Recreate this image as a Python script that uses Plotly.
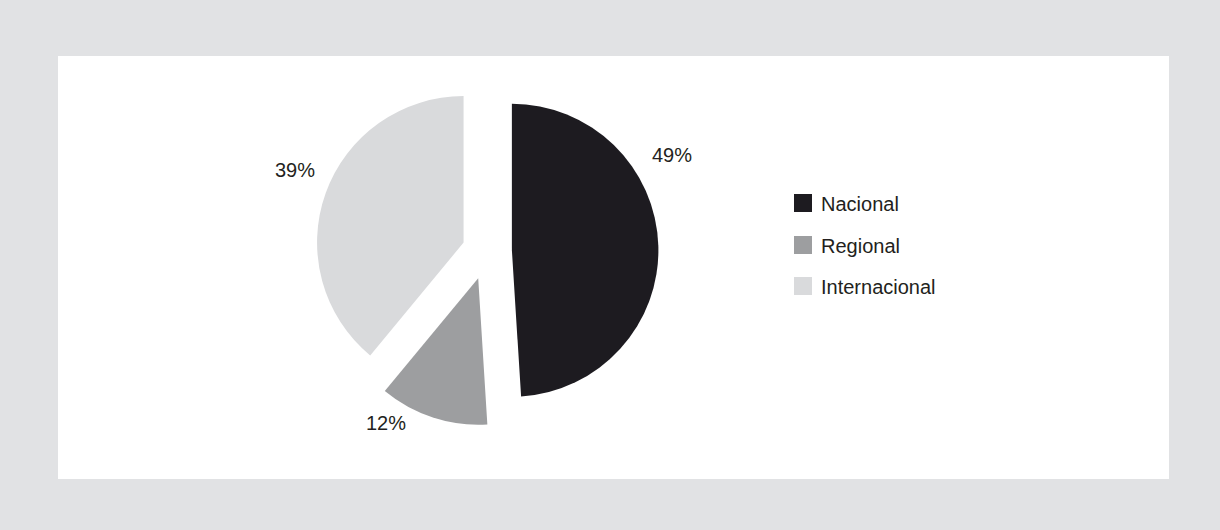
import plotly.graph_objects as go

# Share of items by scope
categories = ["Nacional", "Regional", "Internacional"]
values = [49, 12, 39]
colors = ["#1d1b20", "#9d9ea0", "#d9dadc"]

W, H = 1220, 530
FONT = "Liberation Sans, Arial, Helvetica, sans-serif"
TEXT = "#231f20"

# Pie geometry (pixels); the domain is sized so the radius stays r
cx, cy, r = 487, 251, 146.5
pulls = [0.17, 0.195, 0.17]
half = r * (1 + max(pulls))

fig = go.Figure()
fig.add_trace(go.Pie(
    labels=categories,
    values=values,
    sort=False,
    direction="clockwise",
    rotation=0,
    pull=pulls,
    marker=dict(colors=colors, line=dict(width=0)),
    textinfo="none",
    hoverinfo="label+percent",
    showlegend=False,
    domain=dict(x=[(cx - half) / W, (cx + half) / W],
                y=[1 - (cy + half) / H, 1 - (cy - half) / H]),
))

shapes = [
    # white inner panel on the grey page
    dict(type="rect", xref="paper", yref="paper",
         x0=58 / W, x1=1169 / W, y0=1 - 479 / H, y1=1 - 56 / H,
         fillcolor="white", line=dict(width=0), layer="below"),
]
annotations = []

# percentage labels placed beside each slice
label_pos = {"Nacional": (672, 155), "Regional": (386, 423), "Internacional": (295, 170)}
total = sum(values)
for cat, v in zip(categories, values):
    x, y = label_pos[cat]
    annotations.append(dict(
        x=x / W, y=1 - y / H, xref="paper", yref="paper",
        text=f"{round(100 * v / total)}%", showarrow=False,
        xanchor="center", yanchor="middle",
        font=dict(family=FONT, size=20, color=TEXT)))

# legend: square swatch + label
legend_y = [203, 245, 286]
for cat, col, ly in zip(categories, colors, legend_y):
    shapes.append(dict(type="rect", xref="paper", yref="paper",
                       x0=794 / W, x1=812 / W, y0=1 - (ly + 9) / H, y1=1 - (ly - 9) / H,
                       fillcolor=col, line=dict(width=0)))
    annotations.append(dict(
        x=819 / W, y=1 - (ly + 1) / H, xref="paper", yref="paper",
        text=cat, showarrow=False, xanchor="left", yanchor="middle",
        font=dict(family=FONT, size=20, color=TEXT)))

fig.update_layout(
    width=W, height=H,
    margin=dict(l=0, r=0, t=0, b=0),
    paper_bgcolor="#e1e2e4",
    plot_bgcolor="#e1e2e4",
    shapes=shapes,
    annotations=annotations,
)

fig.write_html("out.html")
